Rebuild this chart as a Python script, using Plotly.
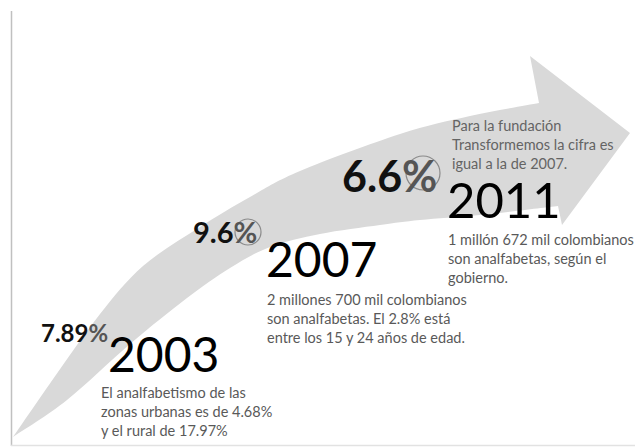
import plotly.graph_objects as go

# ---- content (data) ----
years = ["2003", "2007", "2011"]
rates = ["7.89", "9.6", "6.6"]
descriptions = [
    "El analfabetismo de las<br>zonas urbanas es de 4.68%<br>y el rural de 17.97%",
    "2 millones 700 mil colombianos<br>son analfabetas. El 2.8% está<br>entre los 15 y 24 años de edad.",
    "1 millón 672 mil colombianos<br>son analfabetas, según el<br>gobierno.",
]
note_2011 = "Para la fundación<br>Transformemos la cifra es<br>igual a la de 2007."

# ---- layout / positions (pixel space, y down) ----
W, H = 635, 447
rate_pos = [(39, 332), (191, 231), (340, 175)]
rate_size = [24, 29, 43]
circle_pos = [None, (248, 232, 13), (423, 173, 17)]
year_pos = [(106, 353), (264, 258), (445, 199)]
year_size = [48, 48, 49]
desc_pos = [(99, 411), (265, 318), (446, 258)]
desc_size = 14.5
note_pos = (450, 144)

upper_edge = [(13, 437), (58, 372), (100, 314), (143, 266), (200, 227), (250, 197),
              (300, 171), (400, 134), (470, 116), (539, 103)]
head = [(530, 56), (630, 133), (562, 225)]
lower_edge = [(558, 206), (480, 215), (420, 220), (380, 225), (320, 234), (270, 247),
              (230, 268), (187, 298), (130, 344), (67, 400), (13, 437)]


def smooth(pts):
    """Catmull-Rom through points -> SVG cubic segments."""
    out = ""
    n = len(pts)
    for i in range(n - 1):
        p0 = pts[i - 1] if i > 0 else pts[i]
        p1 = pts[i]
        p2 = pts[i + 1]
        p3 = pts[i + 2] if i + 2 < n else pts[i + 1]
        c1 = (p1[0] + (p2[0] - p0[0]) / 6, p1[1] + (p2[1] - p0[1]) / 6)
        c2 = (p2[0] - (p3[0] - p1[0]) / 6, p2[1] - (p3[1] - p1[1]) / 6)
        out += f" C {c1[0]:.1f},{c1[1]:.1f} {c2[0]:.1f},{c2[1]:.1f} {p2[0]},{p2[1]}"
    return out


path = f"M {upper_edge[0][0]},{upper_edge[0][1]}" + smooth(upper_edge)
for p in head:
    path += f" L {p[0]},{p[1]}"
path += f" L {lower_edge[0][0]},{lower_edge[0][1]}" + smooth(lower_edge) + " Z"

fig = go.Figure()
fig.add_trace(go.Scatter(x=[0, W], y=[0, H], mode="markers",
                         marker=dict(opacity=0), hoverinfo="skip", showlegend=False))

shapes = [
    dict(type="path", path=path, xref="x", yref="y",
         fillcolor="#d9d9d9", line=dict(width=0), layer="below"),
    dict(type="line", x0=11.5, x1=11.5, y0=11, y1=446, xref="x", yref="y",
         line=dict(color="#c0c0c0", width=1.5)),
    dict(type="line", x0=11, x1=W, y0=445.5, y1=445.5, xref="x", yref="y",
         line=dict(color="#e2e2e2", width=1.5)),
]
for c in circle_pos:
    if c:
        cx, cy, r = c
        shapes.append(dict(type="circle", x0=cx - r, x1=cx + r, y0=cy - r, y1=cy + r,
                           xref="x", yref="y", line=dict(color="#8a8a8a", width=1.2),
                           fillcolor="rgba(0,0,0,0)"))

font_main = "Lato, 'Open Sans', sans-serif"
ann = []
for i in range(3):
    ann.append(dict(x=rate_pos[i][0], y=rate_pos[i][1], xref="x", yref="y",
                    text=f"<b>{rates[i]}<span style='color:#555555'>%</span></b>",
                    showarrow=False, xanchor="left", yanchor="middle",
                    font=dict(family=font_main, size=rate_size[i], color="#111111")))
    ann.append(dict(x=year_pos[i][0], y=year_pos[i][1], xref="x", yref="y",
                    text=years[i], showarrow=False, xanchor="left", yanchor="middle",
                    font=dict(family=font_main, size=year_size[i], color="#000000")))
    ann.append(dict(x=desc_pos[i][0], y=desc_pos[i][1], xref="x", yref="y",
                    text=descriptions[i], showarrow=False, xanchor="left", yanchor="middle",
                    align="left",
                    font=dict(family=font_main, size=desc_size, color="#595959")))
ann.append(dict(x=note_pos[0], y=note_pos[1], xref="x", yref="y", text=note_2011,
                showarrow=False, xanchor="left", yanchor="middle", align="left",
                font=dict(family=font_main, size=desc_size, color="#646464")))

fig.update_layout(
    width=W, height=H, margin=dict(l=0, r=0, t=0, b=0),
    paper_bgcolor="white", plot_bgcolor="white",
    xaxis=dict(range=[0, W], visible=False, fixedrange=True),
    yaxis=dict(range=[H, 0], visible=False, fixedrange=True),
    shapes=shapes, annotations=ann, showlegend=False,
)
fig.write_html("out.html")
